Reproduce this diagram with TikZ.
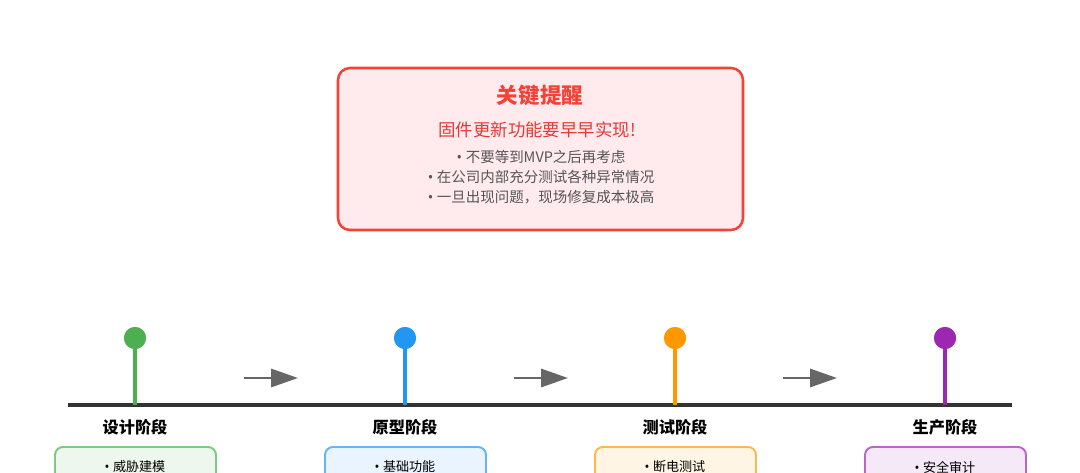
\documentclass[tikz,border=0pt]{standalone}
\usepackage{fontspec}
\setmainfont{Noto Sans CJK SC}
\newfontfamily\latinfont{Noto Sans}
\newcommand{\dotmark}{{\latinfont •\ }}
\usetikzlibrary{arrows.meta}
\definecolor{alertred}{HTML}{F44336}
\definecolor{alertfill}{HTML}{FFEBEE}
\definecolor{subred}{HTML}{E53935}
\definecolor{notegray}{HTML}{555555}
\definecolor{axisgray}{HTML}{333333}
\definecolor{arrowgray}{HTML}{666666}
\definecolor{cgreen}{HTML}{4CAF50}
\definecolor{cblue}{HTML}{2196F3}
\definecolor{corange}{HTML}{FF9800}
\definecolor{cpurple}{HTML}{9C27B0}
\begin{document}
\begin{tikzpicture}[x=0.025cm, y=-0.025cm,
  dot/.style={circle, fill=#1, minimum size=22*0.025cm, inner sep=0pt},
  stem/.style={draw=#1, line width=2.2pt},
  stagelabel/.style={font=\fontsize{11.5}{14}\selectfont\bfseries, text=black},
  stagebox/.style={draw=#1!70, fill=#1!10, line width=1.4pt, rounded corners=0.2cm,
    minimum width=161*0.025cm, minimum height=60*0.025cm, anchor=north, inner sep=0pt},
  boxtext/.style={font=\fontsize{9.3}{11}\selectfont, text=black},
  flow/.style={draw=arrowgray, line width=2pt, -{Triangle[length=0.67cm, width=0.45cm]}}]
\useasboundingbox (0,0) rectangle (1080,473);
\clip (0,0) rectangle (1080,473);

% reminder box
\node[draw=alertred, fill=alertfill, line width=1.8pt, rounded corners=0.3cm,
  minimum width=405*0.025cm, minimum height=162*0.025cm] (note) at (540.5,149) {};
\node[font=\fontsize{15.3}{18}\selectfont\bfseries, text=alertred] (title) at (540,95) {关键提醒};
\node[font=\fontsize{12.4}{15}\selectfont, text=subred] (sub) at (537,130) {固件更新功能要早早实现!};
\node[font=\fontsize{10.3}{14.2}\selectfont, text=notegray, align=center] (tips) at (541,177)
  {\dotmark 不要等到MVP之后再考虑\\\dotmark 在公司内部充分测试各种异常情况\\\dotmark 一旦出现问题，现场修复成本极高};

% timeline
\coordinate (ta) at (68,405);
\coordinate (tb) at (1012,405);
\draw[axisgray, line width=3pt] (ta) -- (tb);

\foreach \x/\c/\name/\lbl/\item in {135/cgreen/design/设计阶段/威胁建模,
    405/cblue/proto/原型阶段/基础功能,
    675/corange/test/测试阶段/断电测试,
    945/cpurple/prod/生产阶段/安全审计} {
  \coordinate (\name-base) at (\x,405);
  \node[dot=\c] (\name-dot) at (\x,338) {};
  \draw[stem=\c] (\name-dot.center) -- (\name-base);
  \node[dot=\c] at (\x,338) {};
  \node[stagelabel] (\name-lbl) at (\x,427) {\lbl};
  \node[stagebox=\c] (\name-box) at (\x.5,446) {};
  \node[boxtext] (\name-txt) at (\x,467) {\dotmark\item};
}

% arrows between stages
\coordinate (a1s) at (244,378); \coordinate (a1e) at (298,378);
\coordinate (a2s) at (514,378); \coordinate (a2e) at (568,378);
\coordinate (a3s) at (783,378); \coordinate (a3e) at (837,378);
\draw[flow] (a1s) -- (a1e);
\draw[flow] (a2s) -- (a2e);
\draw[flow] (a3s) -- (a3e);
\end{tikzpicture}
\end{document}
